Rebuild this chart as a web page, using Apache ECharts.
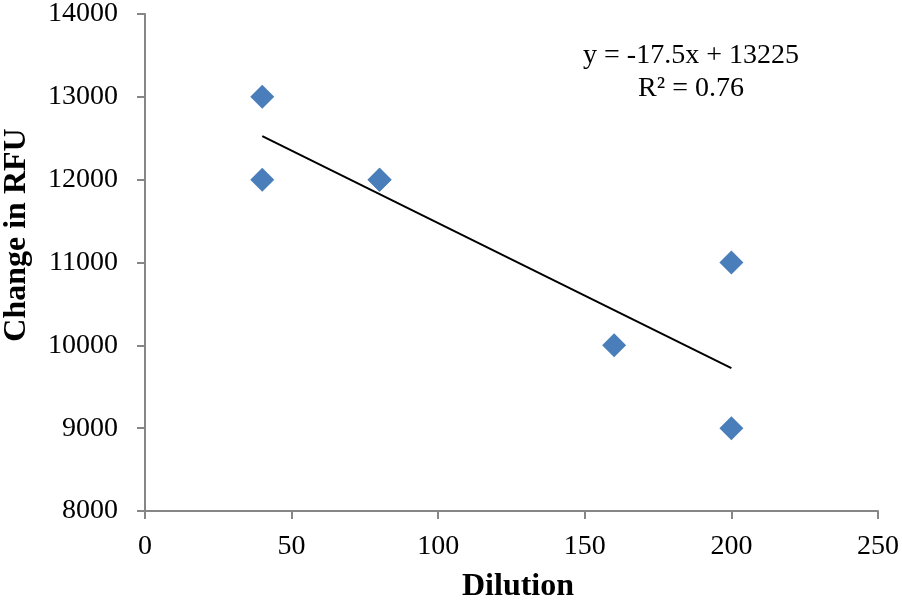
<!DOCTYPE html>
<html>
<head>
<meta charset="utf-8">
<script src="https://cdn.jsdelivr.net/npm/echarts@6/dist/echarts.min.js"></script>
<style>html,body{margin:0;padding:0;background:#fff}#c{width:902px;height:607px}</style>
</head>
<body>
<div id="c"></div>
<script>
var dilution = [40, 40, 80, 80, 160, 200, 200];
var rfu = [13000, 12000, 12000, 12000, 10000, 11000, 9000];
var trendX = [40, 200];
var trendY = [12525, 9725];
var equationText = 'y = -17.5x + 13225';
var r2Text = 'R² = 0.76';
var xTitle = 'Dilution';
var yTitle = 'Change in RFU';
var xTicks = [0, 50, 100, 150, 200, 250];
var yTicks = [8000, 9000, 10000, 11000, 12000, 13000, 14000];

var font = '"Liberation Serif", "Times New Roman", serif';
var chart = echarts.init(document.getElementById('c'), null, {renderer: 'canvas'});
var axisLine = {show: true, lineStyle: {color: '#868686', width: 2}};
var axisTick = {show: true, inside: false, length: 8, lineStyle: {color: '#868686', width: 2}};
chart.setOption({
  animation: false,
  backgroundColor: '#ffffff',
  grid: {left: 145, right: 24, top: 14, bottom: 96, containLabel: false, outerBoundsMode: 'none'},
  xAxis: {
    type: 'value', min: xTicks[0], max: xTicks[xTicks.length - 1], interval: 50,
    name: xTitle, nameLocation: 'middle', nameGap: 60,
    nameTextStyle: {fontFamily: font, fontSize: 32, fontWeight: 'bold', color: '#000', padding: [0, 0, 0, 13]},
    axisLine: axisLine, axisTick: axisTick,
    axisLabel: {fontFamily: font, fontSize: 28, color: '#000', margin: 22,
      formatter: function (v) { return String(v); }},
    splitLine: {show: false}
  },
  yAxis: {
    type: 'value', min: yTicks[0], max: yTicks[yTicks.length - 1], interval: 1000,
    axisLine: axisLine, axisTick: axisTick,
    axisLabel: {fontFamily: font, fontSize: 28, color: '#000', margin: 27,
      formatter: function (v) { return String(v); }},
    splitLine: {show: false}
  },
  series: [
    {
      type: 'line', data: trendX.map(function (x, i) { return [x, trendY[i]]; }),
      showSymbol: false, symbol: 'none', lineStyle: {color: '#000', width: 2}, z: 1
    },
    {
      type: 'scatter', data: dilution.map(function (x, i) { return [x, rfu[i]]; }),
      symbol: 'diamond', symbolSize: [24, 24],
      itemStyle: {color: '#4A7EBB', opacity: 1, borderWidth: 0}, z: 3
    }
  ],
  graphic: [
    {type: 'text', x: 17, y: 235, rotation: Math.PI / 2,
      style: {text: yTitle, font: 'bold 32px ' + font, fill: '#000', textAlign: 'center', textVerticalAlign: 'middle'}},
    {type: 'text', x: 691, y: 56, style: {text: equationText, font: '28px ' + font, fill: '#000', textAlign: 'center', textVerticalAlign: 'middle'}},
    {type: 'text', x: 691, y: 89, style: {text: r2Text, font: '28px ' + font, fill: '#000', textAlign: 'center', textVerticalAlign: 'middle'}}
  ]
});
</script>
</body>
</html>
